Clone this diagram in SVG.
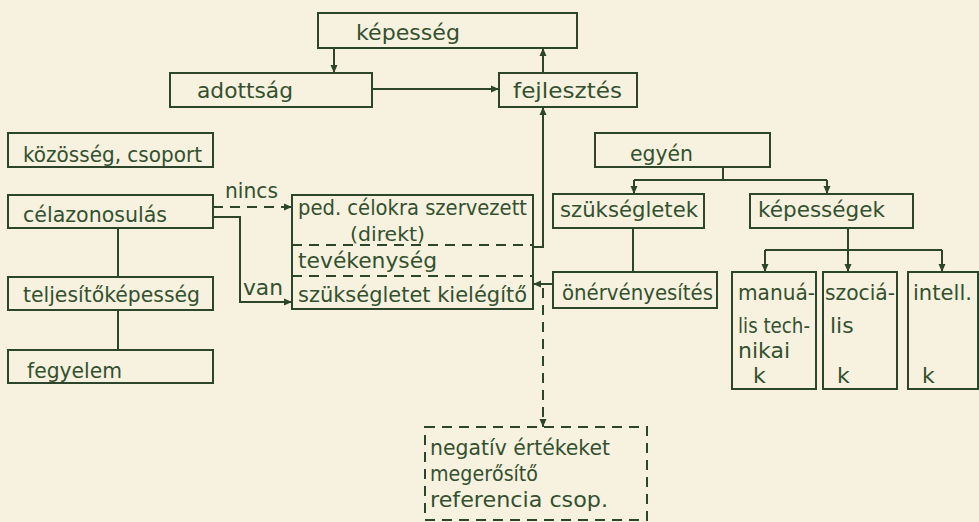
<svg xmlns="http://www.w3.org/2000/svg" width="979" height="522" viewBox="0 0 979 522">
<defs>
<marker id="ah" markerWidth="10" markerHeight="10" refX="9" refY="5" orient="auto" markerUnits="userSpaceOnUse">
<path d="M1,1.5 L9,5 L1,8.5 Z" fill="#2d452b"/>
</marker>
<style>
.bx{fill:none;stroke:#2d452b;stroke-width:2}
.dbx{fill:none;stroke:#2d452b;stroke-width:2;stroke-dasharray:10 7}
.ln{fill:none;stroke:#2d452b;stroke-width:2}
.ar{fill:none;stroke:#2d452b;stroke-width:2;marker-end:url(#ah)}
.dar{fill:none;stroke:#2d452b;stroke-width:2;stroke-dasharray:10 7;marker-end:url(#ah)}
text{font-family:"DejaVu Sans","Liberation Sans",sans-serif;font-size:22px;fill:#34502f}
.sm{font-size:19px}
</style>
</defs>
<rect x="0" y="0" width="979" height="522" fill="#f6f2df"/>

<g id="connectors">
<line class="ar" x1="334" y1="48" x2="334" y2="73"/>
<line class="ar" x1="372" y1="89" x2="499" y2="89"/>
<line class="ar" x1="543" y1="73" x2="543" y2="48"/>
<polyline class="ar" points="533,247 543,247 543,107"/>
<line class="dar" x1="213" y1="207" x2="292" y2="207"/>
<text x="225" y="198" textLength="53" lengthAdjust="spacingAndGlyphs">nincs</text>
<polyline class="ar" points="213,217 240,217 240,302 292,302"/>
<text x="243" y="295" textLength="40" lengthAdjust="spacingAndGlyphs">van</text>
<line class="ln" x1="118" y1="228" x2="118" y2="277"/>
<line class="ln" x1="118" y1="310" x2="118" y2="350"/>
<line class="ln" x1="723" y1="167" x2="723" y2="180"/>
<line class="ln" x1="634" y1="180" x2="827" y2="180"/>
<line class="ar" x1="634" y1="180" x2="634" y2="194"/>
<line class="ar" x1="827" y1="180" x2="827" y2="194"/>
<line class="ln" x1="633" y1="228" x2="633" y2="272"/>
<line class="ar" x1="848" y1="228" x2="848" y2="272"/>
<line class="ln" x1="765" y1="250" x2="942" y2="250"/>
<line class="ar" x1="765" y1="250" x2="765" y2="272"/>
<line class="ar" x1="942" y1="250" x2="942" y2="272"/>
<line class="ar" x1="553" y1="284" x2="533" y2="284"/>
<line class="dar" x1="543" y1="288" x2="543" y2="427"/>
</g>

<g id="kepesseg">
<rect class="bx" x="318" y="13" width="259" height="35"/>
<text x="356" y="40" textLength="104" lengthAdjust="spacingAndGlyphs">képesség</text>
</g>
<g id="adottsag">
<rect class="bx" x="170" y="73" width="202" height="34"/>
<text x="197" y="98" textLength="96" lengthAdjust="spacingAndGlyphs">adottság</text>
</g>
<g id="fejlesztes">
<rect class="bx" x="499" y="73" width="138" height="34"/>
<text x="513" y="98" textLength="109" lengthAdjust="spacingAndGlyphs">fejlesztés</text>
</g>
<g id="kozosseg">
<rect class="bx" x="8" y="133" width="205" height="34"/>
<text x="23" y="162" textLength="179" lengthAdjust="spacingAndGlyphs">közösség, csoport</text>
</g>
<g id="celazonosulas">
<rect class="bx" x="8" y="195" width="205" height="33"/>
<text x="23" y="222" textLength="144" lengthAdjust="spacingAndGlyphs">célazonosulás</text>
</g>
<g id="teljesitokepesseg">
<rect class="bx" x="8" y="277" width="205" height="33"/>
<text x="23" y="302" textLength="177" lengthAdjust="spacingAndGlyphs">teljesítőképesség</text>
</g>
<g id="fegyelem">
<rect class="bx" x="8" y="350" width="205" height="33"/>
<text x="27" y="378" textLength="95" lengthAdjust="spacingAndGlyphs">fegyelem</text>
</g>
<g id="tevekenyseg">
<rect class="bx" x="292" y="195" width="241" height="114"/>
<line class="dbx" x1="292" y1="245" x2="533" y2="245"/>
<line class="dbx" x1="292" y1="276" x2="533" y2="276"/>
<text x="298" y="215" textLength="229" lengthAdjust="spacingAndGlyphs">ped. célokra szervezett</text>
<text class="sm" x="350" y="241" textLength="75" lengthAdjust="spacingAndGlyphs">(direkt)</text>
<text x="298" y="268" textLength="139" lengthAdjust="spacingAndGlyphs">tevékenység</text>
<text x="298" y="302" textLength="229" lengthAdjust="spacingAndGlyphs">szükségletet kielégítő</text>
</g>
<g id="egyen">
<rect class="bx" x="595" y="133" width="175" height="34"/>
<text x="630" y="161" textLength="63" lengthAdjust="spacingAndGlyphs">egyén</text>
</g>
<g id="szuksegletek">
<rect class="bx" x="553" y="194" width="151" height="34"/>
<text x="560" y="217" textLength="138" lengthAdjust="spacingAndGlyphs">szükségletek</text>
</g>
<g id="kepessegek">
<rect class="bx" x="750" y="194" width="163" height="34"/>
<text x="758" y="217" textLength="127" lengthAdjust="spacingAndGlyphs">képességek</text>
</g>
<g id="onervenyesites">
<rect class="bx" x="553" y="272" width="164" height="36"/>
<text x="562" y="300" textLength="151" lengthAdjust="spacingAndGlyphs">önérvényesítés</text>
</g>
<g id="manualis">
<rect class="bx" x="732" y="272" width="84" height="117"/>
<text x="738" y="300" textLength="77" lengthAdjust="spacingAndGlyphs">manuá-</text>
<text x="738" y="333" textLength="72" lengthAdjust="spacingAndGlyphs">lis tech-</text>
<text x="738" y="358">nikai</text>
<text x="753" y="383">k</text>
</g>
<g id="szocialis">
<rect class="bx" x="823" y="272" width="74" height="117"/>
<text x="825" y="300" textLength="70" lengthAdjust="spacingAndGlyphs">szociá-</text>
<text x="830" y="333">lis</text>
<text x="837" y="383">k</text>
</g>
<g id="intell">
<rect class="bx" x="908" y="272" width="70" height="117"/>
<text x="913" y="300" textLength="59" lengthAdjust="spacingAndGlyphs">intell.</text>
<text x="922" y="383">k</text>
</g>
<g id="negativ">
<rect class="dbx" x="425" y="427" width="222" height="93"/>
<text x="430" y="455" textLength="180" lengthAdjust="spacingAndGlyphs">negatív értékeket</text>
<text x="430" y="481" textLength="108" lengthAdjust="spacingAndGlyphs">megerősítő</text>
<text x="430" y="507" textLength="178" lengthAdjust="spacingAndGlyphs">referencia  csop.</text>
</g>
</svg>
